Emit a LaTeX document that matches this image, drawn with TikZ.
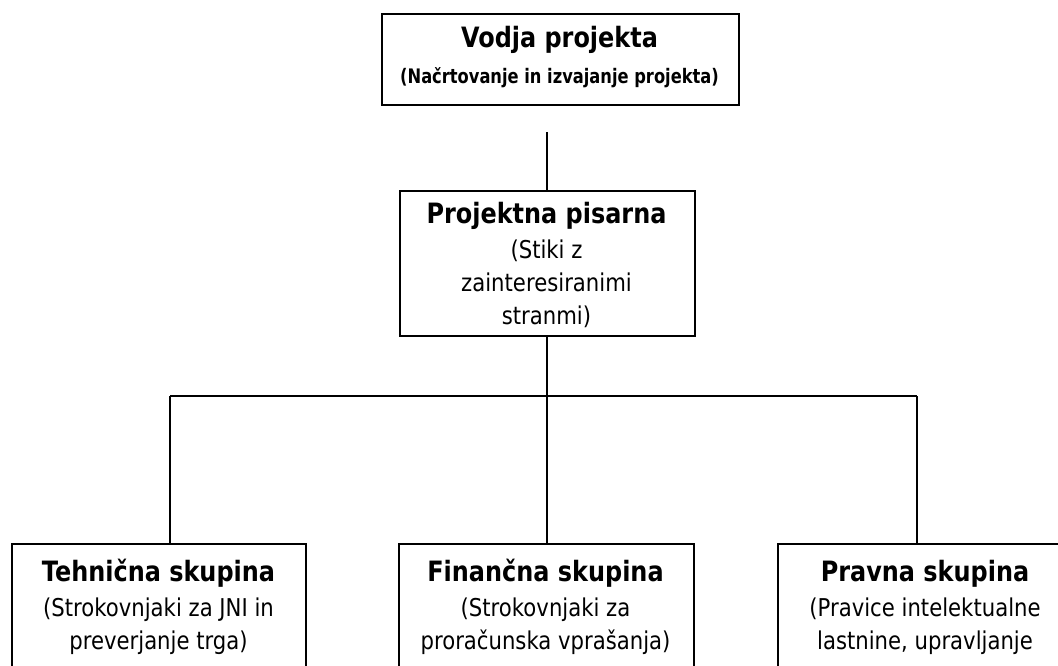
\documentclass[tikz,border=0pt]{standalone}
\usepackage{fontspec}
\setmainfont{DejaVu Sans}
\newfontfamily\titlefont{DejaVu Sans}[FakeStretch=0.855]
\newfontfamily\subfont{DejaVu Sans}[FakeStretch=0.864]
\newfontfamily\topsubfont{DejaVu Sans}[FakeStretch=0.814]
\begin{document}
\begin{tikzpicture}[x=0.75pt,y=-0.75pt,
  box/.style={draw=black,line width=1.5pt,fill=white,inner sep=0pt},
  conn/.style={draw=black,line width=1.5pt},
  ttl/.style={anchor=base,inner sep=0pt,font=\titlefont\fontsize{21}{24}\selectfont\bfseries},
  sub/.style={anchor=base,inner sep=0pt,font=\subfont\fontsize{18.4}{21}\selectfont},
  subb/.style={anchor=base,inner sep=0pt,font=\topsubfont\fontsize{15}{18}\selectfont\bfseries}]
\useasboundingbox (0,0) rectangle (1058,665);
\clip (0,0) rectangle (1058,665);
% boxes
\node[box,minimum width=357*0.75pt,minimum height=91*0.75pt,anchor=north west] (top) at (381,13) {};
\node[box,minimum width=295*0.75pt,minimum height=145*0.75pt,anchor=north west] (mid) at (399,190) {};
\node[box,minimum width=294*0.75pt,minimum height=160*0.75pt,anchor=north west] (lb) at (11,543) {};
\node[box,minimum width=295*0.75pt,minimum height=160*0.75pt,anchor=north west] (cb) at (398,543) {};
\node[box,minimum width=296*0.75pt,minimum height=160*0.75pt,anchor=north west] (rb) at (777,543) {};
% connector points
\coordinate (s0) at (547,132);
\coordinate (jL) at (170,396);
\coordinate (jM) at (547,396);
\coordinate (jR) at (917,396);
\draw[conn] (s0) -- (s0 |- mid.north);
\draw[conn] (jM |- mid.south) -- (jM);
\draw[conn] (jL) -- (jR);
\draw[conn] (jL) -- (jL |- lb.north);
\draw[conn] (jM) -- (jM |- cb.north);
\draw[conn] (jR) -- (jR |- rb.north);
% texts
\node[ttl] (t1) at (559.5,47) {Vodja projekta};
\node[subb] (t2) at (559.5,83) {(Načrtovanje in izvajanje projekta)};
\node[ttl] (m1) at (546.5,223) {Projektna pisarna};
\node[sub] (m2) at (546.5,258) {(Stiki z};
\node[sub] (m3) at (546.5,291) {zainteresiranimi};
\node[sub] (m4) at (546.5,324) {stranmi)};
\node[ttl] (l1) at (158.5,581) {Tehnična skupina};
\node[sub] (l2) at (158.5,616) {(Strokovnjaki za JNI in};
\node[sub] (l3) at (158.5,649) {preverjanje trga)};
\node[ttl] (c1) at (545.5,581) {Finančna skupina};
\node[sub] (c2) at (545.5,616) {(Strokovnjaki za};
\node[sub] (c3) at (545.5,649) {proračunska vprašanja)};
\node[ttl] (r1) at (925,581) {Pravna skupina};
\node[sub] (r2) at (925,616) {(Pravice intelektualne};
\node[sub] (r3) at (925,649) {lastnine, upravljanje};
\end{tikzpicture}
\end{document}
